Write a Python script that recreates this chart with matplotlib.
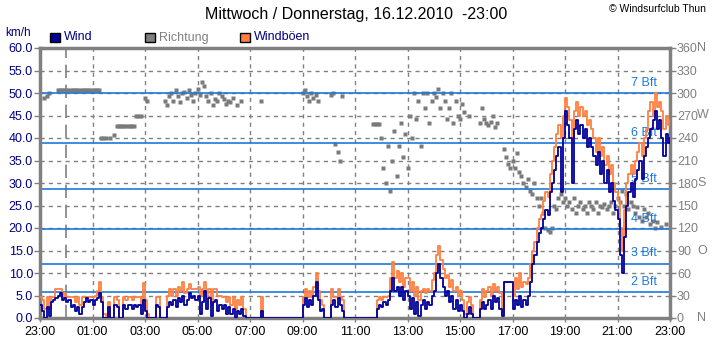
import numpy as np
import matplotlib
matplotlib.use("Agg")
import matplotlib.pyplot as plt
from matplotlib.patches import Rectangle

plt.rcParams['font.family'] = ['Liberation Sans', 'DejaVu Sans']

NA = np.nan

# 5-minute values, one row per hour starting at 23:00
wind_rows = [
    [3.0, 1.5, 0.0, 2.5, 0.5, 3.5, 4.0, 4.5, 5.0, 5.5, 4.0, 4.5],
    [3.5, 4.0, 2.5, 3.0, 1.5, 2.5, 1.0, 2.5, 3.5, 4.5, 3.5, 4.0],
    [3.0, 4.0, 4.5, 5.5, 3.5, 0.0, 0.0, 2.5, 0.0, 0.0, 3.0, 2.5],
    [0.0, 0.0, 3.0, 2.0, 3.0, 3.0, 2.0, 3.0, 2.5, 3.0, 1.0, 4.0],
    [1.5, 0.0, 0.0, 0.0, 0.0, 3.0, 2.5, 0.0, 0.0, 0.0, 2.5, 3.5],
    [3.0, 4.0, 2.5, 4.5, 3.5, 5.0, 3.0, 4.0, 5.5, 4.5, 5.0, 4.0],
    [5.0, 1.0, 3.5, 6.0, 2.0, 4.5, 0.5, 3.5, 4.0, 1.5, 3.0, 2.0],
    [3.0, 1.0, 2.5, 1.0, 2.0, 0.0, 1.5, 1.0, 2.0, 0.5, 0.0, 0.0],
    [0.0, 0.0, 0.0, 0.0, 0.0, 1.5, 0.0, 0.0, 0.0, 0.0, 0.0, 0.0],
    [0.0, 0.0, 0.0, 0.0, 0.0, 0.0, 0.0, 0.0, 0.0, 0.0, 0.0, 0.0],
    [3.0, 4.5, 2.5, 4.0, 3.0, 5.0, 8.0, 4.0, 1.5, 2.0, 0.0, 0.0],
    [0.0, 3.0, 4.0, 2.5, 4.5, 3.0, 1.5, 0.0, 0.0, 0.0, 0.0, 0.0],
    [0.0, 0.0, 0.0, 0.0, 0.0, 0.0, 0.0, 0.0, 0.0, 0.0, 2.0, 3.0],
    [2.5, 3.5, 3.0, 4.0, 6.0, 9.0, 6.0, 7.0, 5.0, 7.0, 4.0, 6.0],
    [5.0, 2.0, 4.5, 1.0, 3.5, 0.5, 3.0, 4.0, 2.0, 3.5, 3.0, 5.0],
    [6.0, 10.0, 12.0, 9.0, 7.0, 5.0, 6.0, 3.5, 5.0, 2.0, 4.0, 1.5],
    [3.0, 1.5, 0.0, 1.0, 2.5, 1.0, 0.0, 0.0, 0.0, 2.0, 3.5, 2.0],
    [3.0, 4.0, 2.0, 5.0, 3.5, 4.5, 2.0, 0.5, 8.0, 8.0, 8.0, 8.0],
    [2.0, 4.0, 3.0, 5.0, 2.5, 4.0, 3.0, 5.0, 8.0, 12.0, 14.0, 17.0],
    [19.0, 20.0, 22.0, 24.0, 23.0, 28.0, 30.0, 33.0, 36.0, 38.0, 28.0, 40.0],
    [46.0, 43.0, 40.0, 30.0, 42.0, 44.0, 41.0, 43.0, 40.0, 42.0, 38.0, 40.0],
    [38.0, 36.0, 34.0, 37.0, 32.0, 35.0, 30.0, 33.0, 28.0, 30.0, 26.0, 24.0],
    [22.0, 14.0, 10.0, 18.0, 25.0, 28.0, 30.0, 27.0, 31.0, 33.0, 35.0, 31.0],
    [36.0, 38.0, 40.0, 42.0, 44.0, 46.0, 42.0, 44.0, 40.0, 36.0, 41.0, 39.0],
]
wind_end = 40.0

gust_rows = [
    [4.7, 4.0, 2.0, 4.7, 2.0, 4.7, 4.7, 6.4, 6.4, 6.4, 4.7, 5.5],
    [4.7, 4.7, 4.7, 4.7, 3.5, 4.7, 3.0, 4.7, 4.7, 4.7, 4.7, 4.7],
    [4.7, 5.0, 6.0, 8.0, 4.7, 1.0, 0.0, 3.5, 0.0, 0.0, 4.7, 4.0],
    [0.0, 0.0, 4.7, 4.0, 4.7, 4.7, 4.0, 4.7, 4.7, 4.7, 3.0, 7.8],
    [4.0, 1.0, 0.0, 0.0, 0.0, 4.7, 4.7, 0.0, 0.0, 0.0, 5.0, 6.4],
    [5.0, 6.4, 5.0, 7.0, 6.0, 8.0, 5.5, 6.4, 7.5, 6.4, 6.4, 6.4],
    [7.0, 5.0, 6.4, 8.0, 5.0, 6.4, 3.0, 6.4, 6.4, 5.0, 5.0, 4.7],
    [4.7, 3.5, 4.7, 3.0, 4.7, 2.0, 4.0, 3.0, 4.7, 2.0, 0.0, 0.0],
    [0.0, 0.0, 0.0, 0.0, 0.0, 4.7, 0.0, 0.0, 0.0, 0.0, 0.0, 0.0],
    [0.0, 0.0, 0.0, 0.0, 0.0, 0.0, 0.0, 0.0, 0.0, 0.0, 0.0, 0.0],
    [4.7, 6.4, 4.7, 6.0, 4.7, 7.0, 10.0, 6.0, 4.0, 3.0, 0.0, 0.0],
    [0.0, 6.4, 4.7, 4.7, 6.4, 4.7, 4.0, 0.0, 0.0, 0.0, 0.0, 0.0],
    [0.0, 0.0, 0.0, 0.0, 0.0, 0.0, 0.0, 0.0, 0.0, 0.0, 4.0, 4.7],
    [4.0, 4.7, 4.7, 5.0, 9.0, 12.5, 9.0, 10.5, 8.0, 10.0, 7.0, 9.0],
    [9.0, 6.0, 8.0, 5.0, 7.0, 4.0, 6.0, 6.4, 5.5, 6.4, 6.0, 8.5],
    [10.0, 14.0, 16.0, 13.0, 11.0, 9.0, 9.5, 7.0, 8.5, 6.0, 7.0, 5.0],
    [6.0, 4.0, 1.0, 3.5, 4.7, 3.0, 0.0, 0.0, 0.0, 4.0, 6.4, 4.7],
    [6.0, 7.0, 5.0, 7.5, 6.0, 7.0, 5.5, 1.0, 8.0, 8.0, 8.0, 8.0],
    [5.0, 9.0, 6.4, 10.0, 7.0, 8.0, 7.5, 9.0, 12.0, 15.0, 17.0, 20.0],
    [22.0, 23.0, 26.0, 28.0, 27.0, 32.0, 35.0, 38.0, 41.0, 43.0, 40.0, 45.0],
    [49.0, 47.0, 44.0, 40.0, 46.0, 48.0, 45.0, 47.0, 45.0, 46.0, 43.0, 44.0],
    [42.0, 40.0, 37.0, 40.0, 36.0, 38.0, 34.0, 36.0, 32.0, 34.0, 30.0, 28.0],
    [26.0, 20.0, 15.0, 24.0, 30.0, 32.0, 34.0, 32.0, 35.0, 37.0, 39.0, 36.0],
    [40.0, 42.0, 46.0, 48.0, 45.0, 50.0, 47.0, 48.0, 46.0, 42.0, 45.0, 43.0],
]
gust_end = 44.0

dir_rows = [
    [NA, NA, 293, 296, 300, NA, NA, NA, 304, 304, 304, 304],
    [304, 304, 304, 304, 304, 304, 304, 304, 304, 304, 304, 304],
    [304, 304, 304, 304, 240, 240, 240, NA, 240, NA, 244, 256],
    [256, 256, 256, 256, 256, 256, 256, 256, 270, 270, 270, NA],
    [293, 290, NA, NA, NA, NA, NA, NA, NA, 290, 284, 296],
    [300, 290, 304, 296, 288, 300, 302, 294, 304, 298, 290, 300],
    [306, 298, 315, 310, 296, 290, 300, 284, 292, 290, 300, 296],
    [292, 286, 290, 288, 294, NA, 284, NA, 290, NA, NA, NA],
    [NA, NA, NA, NA, NA, 290, NA, NA, NA, NA, NA, NA],
    [NA, NA, NA, NA, NA, NA, NA, NA, NA, NA, NA, NA],
    [300, 304, 296, 290, 300, 294, 298, 290, NA, NA, NA, NA],
    [NA, 298, 300, 232, 222, 210, 296, NA, NA, NA, NA, NA],
    [NA, NA, NA, NA, NA, NA, NA, NA, 259, 259, 259, 259],
    [240, 200, 180, 230, 170, 210, 250, 190, 230, 260, 215, 245],
    [200, 270, 240, 300, 265, 290, 230, 300, 280, 300, 260, 290],
    [300, 295, 305, 280, 300, 290, 265, 280, 300, 260, 290, 270],
    [265, 285, 275, NA, 270, NA, NA, NA, NA, 260, 280, 265],
    [260, 258, 262, 270, 255, 260, NA, NA, 225, 215, 205, 200],
    [210, 200, 220, 195, 190, 180, 175, 185, 170, 165, 180, 160],
    [150, 160, 140, 120, 118, 115, 120, 150, 145, 160, 165, 155],
    [160, 150, 155, 145, 160, 140, 150, 155, 145, 150, 140, 155],
    [150, 145, 155, 140, 150, 148, 152, 145, 150, 155, 140, 150],
    [160, 155, 170, 150, 165, 145, 155, 150, 140, 148, 135, 130],
    [145, 135, 140, 125, 130, 120, 128, NA, 122, NA, 125, NA],
]
dir_end = NA

time_ticks = list(range(0, 25, 2))
time_labels = ['23:00', '01:00', '03:00', '05:00', '07:00', '09:00', '11:00',
               '13:00', '15:00', '17:00', '19:00', '21:00', '23:00']
speed_ticks = list(range(0, 61, 5))
dir_ticks = list(range(0, 361, 30))
dir_letters = {0: 'N', 90: 'O', 180: 'S', 270: 'W', 360: 'N'}
bft_levels = [5.7, 12.1, 19.8, 28.6, 38.8, 49.9]
bft_names = ['2 Bft', '3 Bft', '4 Bft', '5 Bft', '6 Bft', '7 Bft']

wind = np.array(sum(wind_rows, []) + [wind_end], dtype=float)
gust = np.array(sum(gust_rows, []) + [gust_end], dtype=float)
direction = np.array(sum(dir_rows, []) + [dir_end], dtype=float)
t = np.arange(len(wind)) / 12.0

NAVY = '#000099'
ORANGE = '#FF8040'
GRAY = '#808080'
BLUE = '#1E78DC'
LABEL_NAVY = '#000080'

W, H = 712, 351
fig = plt.figure(figsize=(W / 100, H / 100), dpi=100)
ax = fig.add_axes([40 / W, 33 / H, 630 / W, 270 / H])
ax2 = ax.twinx()
ax.set_zorder(ax2.get_zorder() + 1)
ax.patch.set_visible(False)

ax.set_xlim(0, 24)
ax.set_ylim(0, 60)
ax2.set_ylim(0, 360)

# grid
for v in speed_ticks[1:-1]:
    ax.axhline(v, color=GRAY, lw=1, ls=(0, (3, 3)), zorder=1)
for h in range(2, 24, 2):
    ax.axvline(h, color=GRAY, lw=1, ls=(0, (3, 3)), zorder=1)
ax.axvline(1, color=GRAY, lw=1.2, ls=(0, (8, 4)), zorder=1)

# Beaufort lines
for lev, name in zip(bft_levels, bft_names):
    ax.axhline(lev, color=BLUE, lw=1.2, zorder=2)
    ax.text(23.5, lev + 0.9, name, ha='right', va='bottom', color=BLUE,
            fontsize=9, zorder=2)

# direction dots
ax2.plot(t, direction, ls='none', marker='s', ms=2.4, color='#7a7a7a', mec='none')

# gusts and wind
ax.plot(t, gust, color=ORANGE, lw=1.3, drawstyle='steps-post', zorder=3)
ax.plot(t, wind, color=NAVY, lw=1.3, drawstyle='steps-post', zorder=4)

# axes styling
for s in ax.spines.values():
    s.set_color(GRAY)
    s.set_linewidth(2.5)
for s in ax2.spines.values():
    s.set_visible(False)

ax.set_xticks(time_ticks)
ax.set_xticklabels(time_labels)
ax.set_yticks(speed_ticks)
ax.set_yticklabels([f'{v:.1f}' for v in speed_ticks])
ax.tick_params(axis='y', color=GRAY, labelcolor=LABEL_NAVY, length=4,
               width=1, labelsize=9, pad=1, right=False)
ax.tick_params(axis='x', color=GRAY, labelcolor='black', length=3,
               width=1, labelsize=9, pad=3)

ax2.set_yticks(dir_ticks)
ax2.set_yticklabels([str(v) for v in dir_ticks])
ax2.tick_params(axis='y', color=GRAY, labelcolor=GRAY, length=4, width=1,
                labelsize=9, pad=1)
for val, letter in dir_letters.items():
    ax2.text((697 - 40) / 630, val, letter, transform=ax2.get_yaxis_transform(),
             ha='left', va='center', color=GRAY, fontsize=9, clip_on=False)

# title and texts
fig.text(0.5, 1 - 15 / H, 'Mittwoch / Donnerstag, 16.12.2010  -23:00',
         ha='center', va='center', fontsize=11.5)
fig.text(706 / W, 1 - 9 / H, '\u00a9 Windsurfclub Thun', ha='right',
         va='center', fontsize=7.5)
fig.text(5 / W, 1 - 33 / H, 'km/h', ha='left', va='center', color=LABEL_NAVY,
         fontsize=8.5)

# legend
legend_items = [('Wind', NAVY, LABEL_NAVY, 50), ('Richtung', GRAY, GRAY, 145),
                ('Windböen', ORANGE, LABEL_NAVY, 240)]
for label, fc, tc, x0 in legend_items:
    fig.add_artist(Rectangle((x0 / W, (H - 42) / H), 10 / W, 9 / H,
                             transform=fig.transFigure, facecolor=fc,
                             edgecolor='black', lw=1))
    fig.text((x0 + 14) / W, 1 - 37.5 / H, label, ha='left', va='center',
             color=tc, fontsize=9)

fig.savefig('out.png', dpi=100)
